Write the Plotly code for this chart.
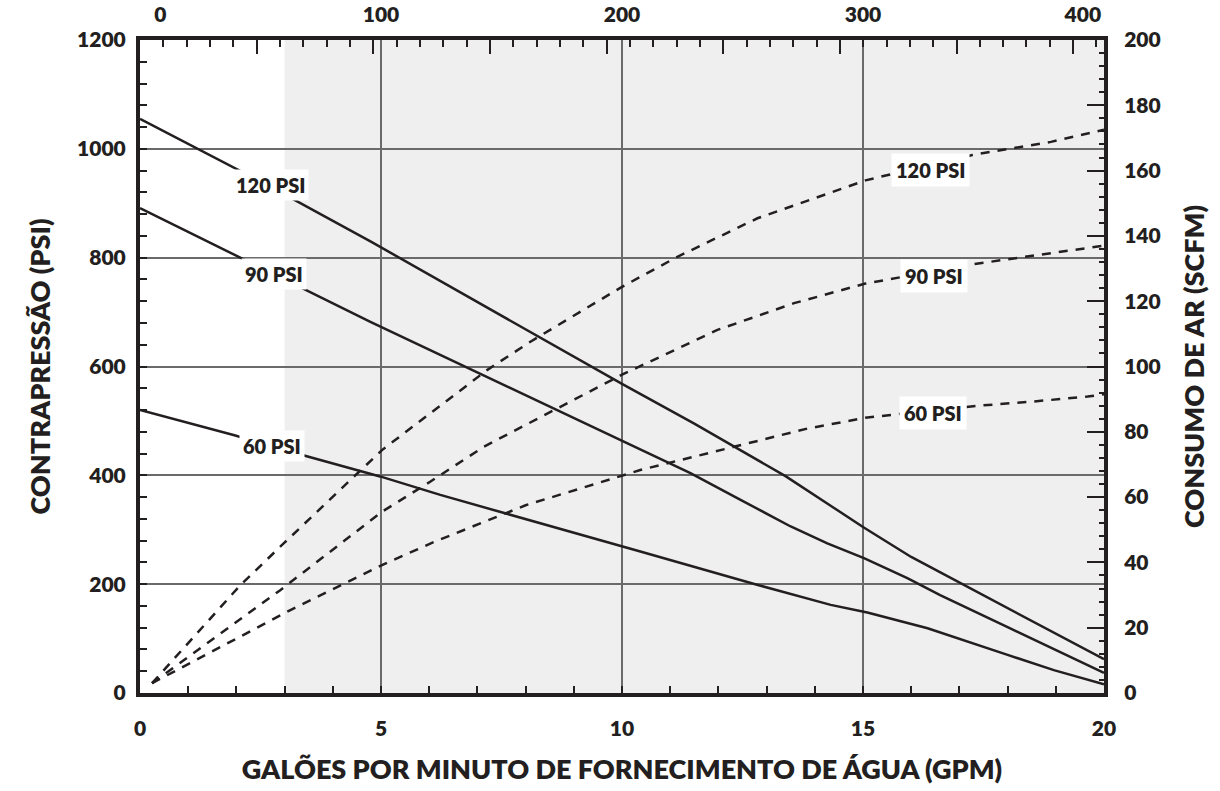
import plotly.graph_objects as go

# ---------------- data ----------------
# Solid curves: back pressure (PSI, left axis) vs water supply (GPM)
GPM_120_SOLID = [0, 2.5, 4.8, 7, 10, 11.5, 12.8, 13.4, 14.4, 15, 16, 16.6, 18, 20]
PSI_120_SOLID = [1055, 940, 829, 719, 568, 495, 428, 398, 340, 305, 250, 222, 156, 62]

GPM_90_SOLID = [0, 4.78, 10.4, 11.42, 12.46, 13.5, 14.26, 15.02, 15.92, 16.6, 18, 20]
PSI_90_SOLID = [891, 682, 447, 404, 355, 306, 275, 248, 211, 180, 121, 37]

GPM_60_SOLID = [0, 1.94, 3.46, 4.98, 6.23, 8, 10.38, 12.8, 14.33, 15.09, 16.34, 18, 18.96, 20]
PSI_60_SOLID = [520, 474, 435, 398, 364, 320, 260, 199, 162, 148, 119, 70, 42, 16]

# Dashed curves: air consumption (SCFM, right axis) vs water supply (GPM)
GPM_120_DASH = [0.25, 2.08, 2.98, 5.02, 6.16, 7.2, 8.1, 10, 11.15, 12.81, 15.05, 17.27, 18.9, 20]
SCFM_120_DASH = [3, 33, 45.8, 74.4, 87.2, 98.9, 107.6, 124.4, 133.6, 145.4, 157, 164.8, 168.8, 172.5]

GPM_90_DASH = [0.25, 2.91, 5.02, 6.02, 7.13, 8.65, 10, 10.87, 11.98, 13.57, 15.05, 17.27, 18.62, 20]
SCFM_90_DASH = [3, 31.5, 55.5, 64.7, 75.4, 87.2, 97.5, 103.5, 111.2, 119.4, 125.4, 131.3, 134.1, 137]

GPM_60_DASH = [0.25, 2.08, 3.12, 5.02, 6.09, 8, 10.38, 12.32, 13.85, 15.09, 17.4, 18.48, 19.66, 20]
SCFM_60_DASH = [3, 17.2, 25.4, 39.2, 46.2, 57.5, 68.3, 75.4, 81, 84.4, 88, 89.2, 90.8, 91.5]

# Tick labels
X_TICKS = [0, 5, 10, 15, 20]
Y_LEFT_TICKS = [0, 200, 400, 600, 800, 1000, 1200]
Y_RIGHT_TICKS = [0, 20, 40, 60, 80, 100, 120, 140, 160, 180, 200]
TOP_LABELS = ["0", "100", "200", "300", "400"]
TOP_LABEL_POS = [0.42, 5, 10, 15, 19.56]

# Curve labels
LEFT_LABELS = ["120 PSI", "90 PSI", "60 PSI"]
LEFT_LABEL_X = [2.70, 2.77, 2.74]
LEFT_LABEL_Y = [933, 770, 454]
RIGHT_LABELS = ["120 PSI", "90 PSI", "60 PSI"]
RIGHT_LABEL_X = [16.39, 16.47, 16.45]
RIGHT_LABEL_Y = [160.2, 127.7, 85.8]

SHADE_START = 3

# ---------------- style ----------------
INK = "#231f20"
GRID = "#6a6a6a"
FONT = "Lato"
TICKFONT = dict(family=FONT, size=21, color=INK, weight=800)
TITLEFONT = dict(family=FONT, size=27, color=INK, weight=800)
LABELFONT = dict(family=FONT, size=20, color=INK, weight=800)

fig = go.Figure()

solid_style = dict(color=INK, width=2.5)
dash_style = dict(color=INK, width=2.5, dash="9px,8px")

for gx, gy in [(GPM_120_SOLID, PSI_120_SOLID), (GPM_90_SOLID, PSI_90_SOLID), (GPM_60_SOLID, PSI_60_SOLID)]:
    fig.add_trace(go.Scatter(x=gx, y=gy, mode="lines", line=solid_style,
                             showlegend=False, hoverinfo="skip", xaxis="x", yaxis="y"))

for gx, gy in [(GPM_120_DASH, SCFM_120_DASH), (GPM_90_DASH, SCFM_90_DASH), (GPM_60_DASH, SCFM_60_DASH)]:
    fig.add_trace(go.Scatter(x=gx, y=gy, mode="lines", line=dash_style,
                             showlegend=False, hoverinfo="skip", xaxis="x", yaxis="y2"))

# invisible traces to activate the top axes
for ax in ["x2", "x3"]:
    fig.add_trace(go.Scatter(x=[X_TICKS[0]], y=[Y_LEFT_TICKS[0]], mode="markers",
                             marker=dict(opacity=0), showlegend=False, hoverinfo="skip",
                             xaxis=ax, yaxis="y"))

# shaded region
fig.add_shape(type="rect", xref="x", yref="paper", x0=SHADE_START, x1=X_TICKS[-1], y0=0, y1=1,
              fillcolor="#efefef", line=dict(width=0), layer="below")

for txt, x, y in zip(LEFT_LABELS, LEFT_LABEL_X, LEFT_LABEL_Y):
    fig.add_annotation(text=txt, x=x, y=y, xref="x", yref="y", showarrow=False,
                       font=LABELFONT, bgcolor="white", borderpad=3)
for txt, x, y in zip(RIGHT_LABELS, RIGHT_LABEL_X, RIGHT_LABEL_Y):
    fig.add_annotation(text=txt, x=x, y=y, xref="x", yref="y2", showarrow=False,
                       font=LABELFONT, bgcolor="white", borderpad=4)

fig.update_layout(
    width=1220, height=791,
    margin=dict(l=140, r=116, t=40, b=98, autoexpand=False),
    plot_bgcolor="white", paper_bgcolor="white",
    xaxis=dict(
        range=[X_TICKS[0], X_TICKS[-1]], tickmode="array", tickvals=X_TICKS, automargin=False,
        ticks="inside", ticklen=7, tickwidth=1.5, tickcolor=INK,
        minor=dict(dtick=1, tick0=0, ticks="inside", ticklen=7, tickwidth=1.5, tickcolor=INK, showgrid=False),
        showgrid=True, gridcolor=GRID, gridwidth=1.5,
        showline=True, linecolor=INK, linewidth=4, zeroline=False,
        tickfont=TICKFONT, ticklabelstandoff=14,
        title=dict(text="GALÕES POR MINUTO DE FORNECIMENTO DE ÁGUA (GPM)", font=TITLEFONT, standoff=22),
    ),
    xaxis2=dict(
        range=[X_TICKS[0], X_TICKS[-1]], overlaying="x", side="top", anchor="y", automargin=False,
        tickmode="array", tickvals=TOP_LABEL_POS, ticktext=TOP_LABELS,
        ticks="", showgrid=False, zeroline=False, showline=True, linecolor=INK, linewidth=4,
        tickfont=TICKFONT, ticklabelstandoff=6,
    ),
    xaxis3=dict(
        range=[X_TICKS[0], X_TICKS[-1]], overlaying="x", side="top", anchor="y", automargin=False,
        tickmode="linear", tick0=0, dtick=2.42, ticks="inside", ticklen=14, tickwidth=1.5, tickcolor=INK,
        minor=dict(tickmode="linear", tick0=0, dtick=0.484, ticks="inside", ticklen=7, tickwidth=1.5, tickcolor=INK, showgrid=False),
        showticklabels=False, showgrid=False, zeroline=False, showline=False,
    ),
    yaxis=dict(
        range=[Y_LEFT_TICKS[0], Y_LEFT_TICKS[-1]], tickmode="array", tickvals=Y_LEFT_TICKS, automargin=False,
        ticks="inside", ticklen=7, tickwidth=1.5, tickcolor=INK,
        minor=dict(dtick=40, tick0=0, ticks="inside", ticklen=7, tickwidth=1.5, tickcolor=INK, showgrid=False),
        showgrid=True, gridcolor=GRID, gridwidth=1.5,
        showline=True, linecolor=INK, linewidth=4, zeroline=False,
        tickfont=TICKFONT, ticklabelstandoff=6,
        title=dict(text="CONTRAPRESSÃO (PSI)", font=TITLEFONT, standoff=20),
    ),
    yaxis2=dict(
        range=[Y_RIGHT_TICKS[0], Y_RIGHT_TICKS[-1]], overlaying="y", side="right", anchor="x", automargin=False,
        tickmode="array", tickvals=Y_RIGHT_TICKS,
        ticks="inside", ticklen=17, tickwidth=1.5, tickcolor=INK,
        minor=dict(dtick=4, tick0=0, ticks="inside", ticklen=5, tickwidth=1.5, tickcolor=INK, showgrid=False),
        showgrid=False, showline=True, linecolor=INK, linewidth=4, zeroline=False,
        tickfont=TICKFONT, ticklabelstandoff=12,
        title=dict(text="CONSUMO DE AR (SCFM)", font=TITLEFONT, standoff=26),
    ),
)

fig.write_html("out.html")
